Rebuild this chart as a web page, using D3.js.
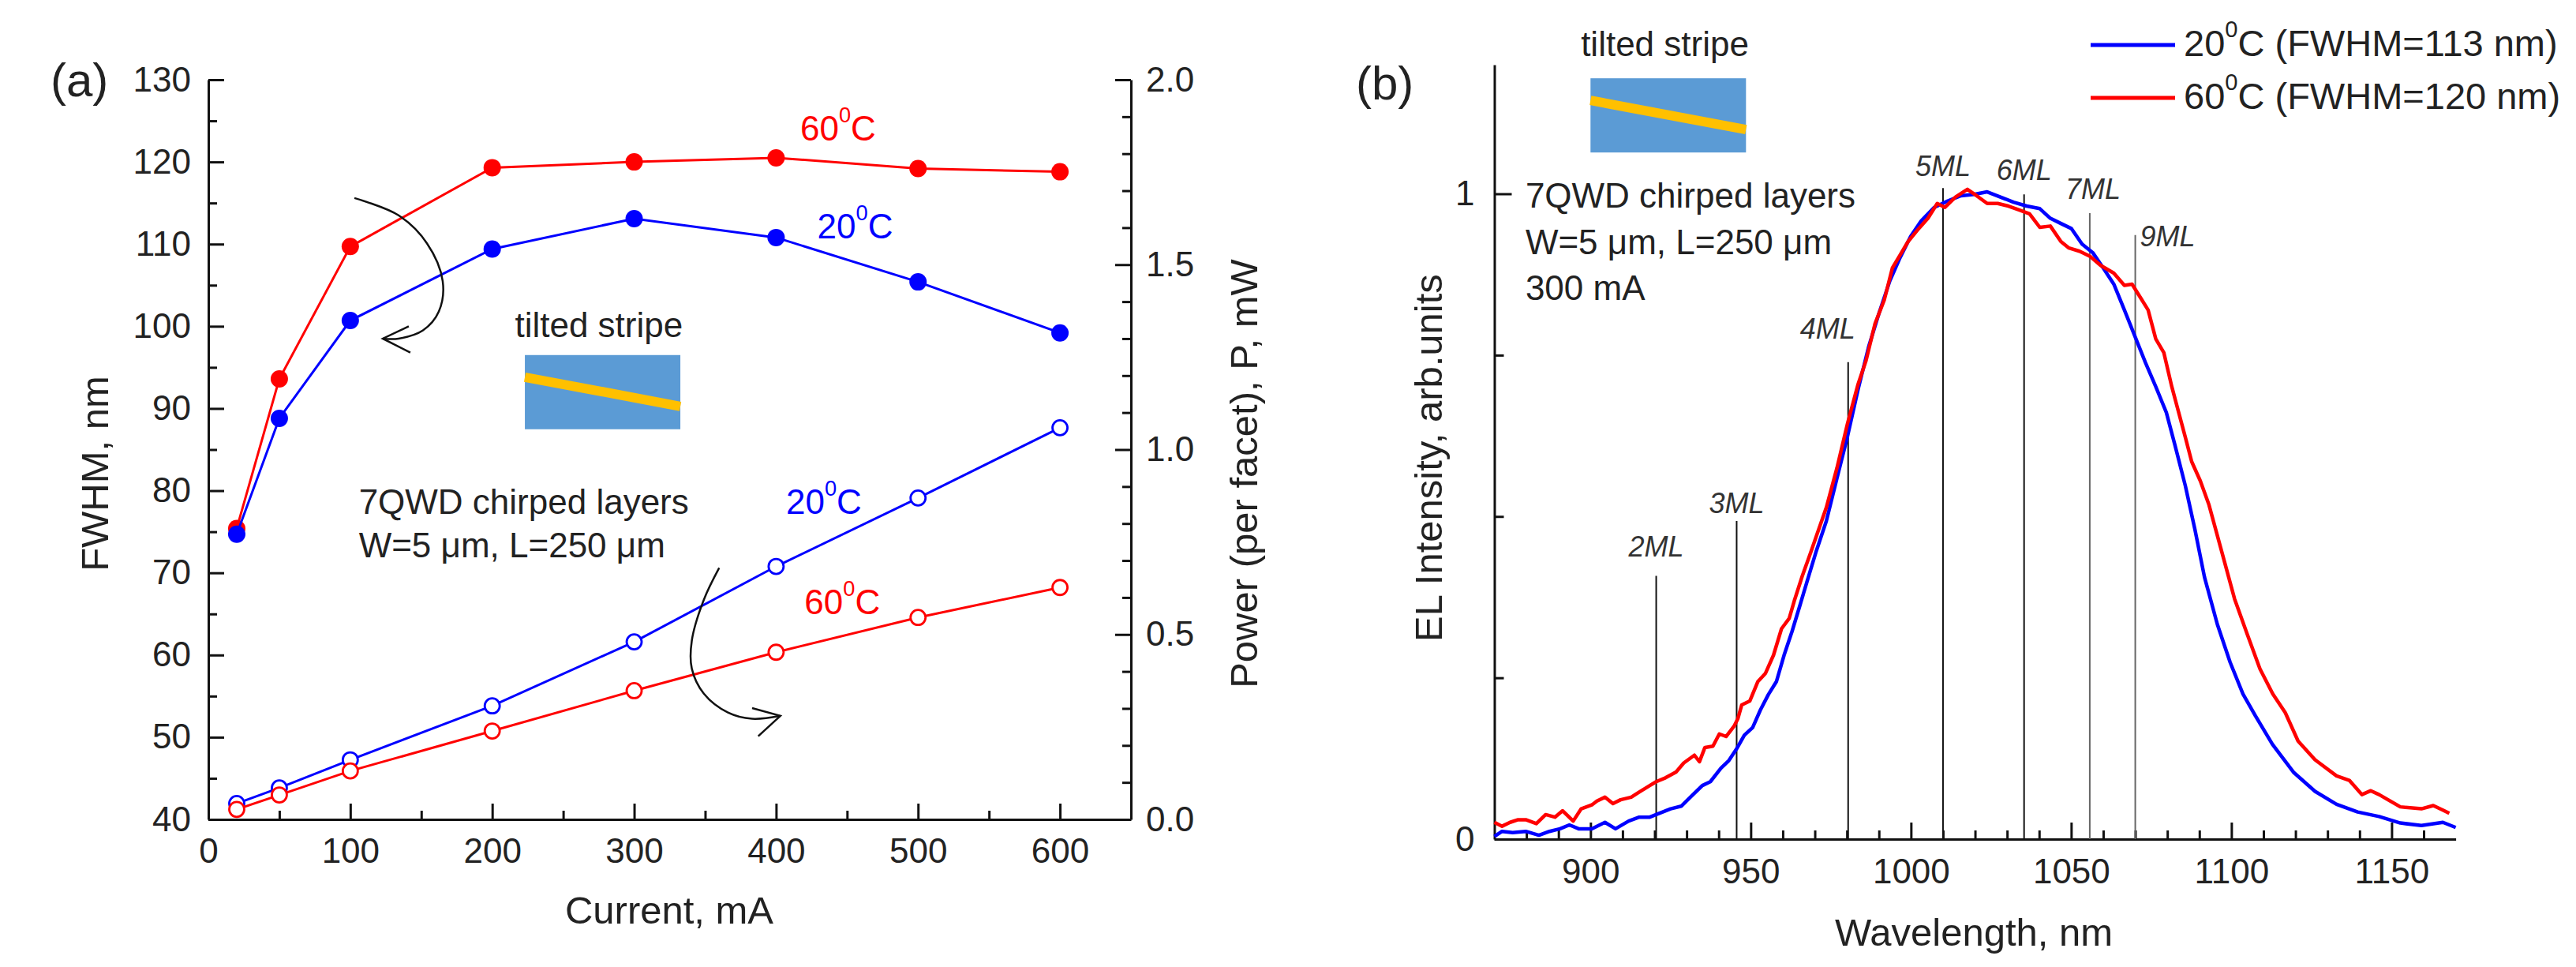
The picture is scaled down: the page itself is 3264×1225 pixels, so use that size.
<!DOCTYPE html>
<html>
<head>
<meta charset="utf-8">
<script src="https://cdnjs.cloudflare.com/ajax/libs/d3/7.8.5/d3.min.js"></script>
<style>
    body { margin: 0; background: #fff; }
    svg text { font-family: "Liberation Sans", Arial, Helvetica, sans-serif; }
    .eje path, .eje line { stroke: #111; stroke-width: 3; }
    .eje text { font-size: 44px; fill: #222; }
</style>
</head>
<body>
<script>

// (a) FWHM y potencia vs corriente
var corriente = [20, 50, 100, 200, 300, 400, 500, 600];
var fwhm20 = [74.7, 88.8, 100.7, 109.4, 113.1, 110.8, 105.4, 99.2];
var fwhm60 = [75.4, 93.6, 109.7, 119.3, 120.0, 120.5, 119.2, 118.8];
var potencia20 = [0.043, 0.085, 0.161, 0.307, 0.480, 0.684, 0.869, 1.059];
var potencia60 = [0.027, 0.066, 0.131, 0.239, 0.348, 0.452, 0.546, 0.627];

var ticksCorriente = [0, 100, 200, 300, 400, 500, 600];
var menoresCorriente = [50, 150, 250, 350, 450, 550];
var ticksFwhm = [40, 50, 60, 70, 80, 90, 100, 110, 120, 130];
var menoresFwhm = [45, 55, 65, 75, 85, 95, 105, 115, 125];
var ticksPotencia = [0, 0.5, 1.0, 1.5, 2.0];
var menoresPotencia = [0.1, 0.2, 0.3, 0.4, 0.6, 0.7, 0.8, 0.9, 1.1, 1.2, 1.3, 1.4, 1.6, 1.7, 1.8, 1.9];

// (b) espectros EL a 300 mA  [longitud de onda nm, intensidad]
var espectro20 = [
    [870,0.004],[872.4,0.012],[875.7,0.010],[879.8,0.012],[883.9,0.006],[887.2,0.012],[890.5,0.016],
    [893.4,0.022],[896.3,0.016],[900.4,0.016],[904.5,0.026],[907.8,0.016],[911.9,0.028],[915.2,0.034],
    [918.5,0.034],[920.5,0.038],[925,0.047],[928.3,0.051],[931.6,0.067],[934.9,0.083],[937.4,0.089],
    [940.7,0.110],[943.2,0.122],[945.6,0.140],[948,0.161],[950.6,0.173],[953,0.200],[955.5,0.224],
    [958,0.244],[960.4,0.285],[962.9,0.322],[965.4,0.363],[967.8,0.403],[970.3,0.444],[973.6,0.493],
    [976.9,0.559],[980.2,0.624],[983.5,0.697],[986.8,0.763],[990.1,0.816],[993.4,0.865],[996.6,0.901],
    [999.9,0.934],[1003.2,0.958],[1007.3,0.979],[1011.5,0.989],[1015.6,0.997],[1019.7,0.999],[1023.8,1.003],
    [1027.9,0.995],[1032,0.987],[1036.1,0.981],[1040.2,0.977],[1043.5,0.962],[1046.8,0.954],[1050.1,0.946],
    [1053.4,0.922],[1056.7,0.909],[1060,0.885],[1063.3,0.860],[1066.6,0.820],[1069.9,0.779],[1073.2,0.738],
    [1076.4,0.701],[1079.7,0.661],[1082.3,0.612],[1085.6,0.548],[1088.6,0.480],[1091.6,0.406],[1095.6,0.333],
    [1099.6,0.274],[1103.6,0.225],[1107.5,0.191],[1112.8,0.147],[1119.5,0.103],[1126.1,0.074],[1132.8,0.054],
    [1139.4,0.042],[1146.1,0.035],[1152.7,0.025],[1159.3,0.021],[1166,0.026],[1170,0.018]
];
var espectro60 = [
    [870,0.026],[872.4,0.020],[874.9,0.026],[877.4,0.030],[879.8,0.030],[883.1,0.024],[886,0.038],
    [888.9,0.034],[891.3,0.044],[894.6,0.028],[897.1,0.047],[900.4,0.053],[902,0.059],[904.5,0.065],
    [907,0.055],[909.4,0.061],[912.7,0.065],[915.2,0.073],[918.5,0.083],[920.5,0.089],[923.4,0.095],
    [926.7,0.104],[929.1,0.118],[932.4,0.130],[934,0.120],[935.7,0.142],[938.2,0.144],[940.2,0.163],
    [942.3,0.159],[944.8,0.175],[946,0.187],[947.2,0.208],[949.7,0.214],[952.2,0.244],[954.6,0.257],
    [957.1,0.285],[959.6,0.326],[962,0.342],[963.7,0.371],[966.1,0.408],[968.7,0.444],[970.3,0.467],
    [973.6,0.514],[976.9,0.575],[980.2,0.644],[983.5,0.705],[986,0.742],[988.8,0.799],[991.7,0.836],
    [994.2,0.885],[996.6,0.905],[999.1,0.926],[1002.4,0.946],[1005.3,0.962],[1008.2,0.985],[1010.6,0.979],
    [1013.9,0.995],[1017.6,1.007],[1020.5,0.997],[1023.8,0.985],[1027.1,0.985],[1030.4,0.981],[1033.7,0.975],
    [1037,0.969],[1040.2,0.948],[1043.5,0.950],[1046.8,0.926],[1049.3,0.916],[1052.6,0.911],[1055.9,0.903],
    [1059.2,0.889],[1063.3,0.877],[1066.6,0.858],[1069,0.860],[1071.5,0.840],[1074,0.820],[1076.4,0.775],
    [1078.9,0.754],[1081.4,0.701],[1085.6,0.623],[1087.6,0.585],[1090.3,0.555],[1093,0.518],[1097,0.445],
    [1101,0.372],[1104.9,0.318],[1108.9,0.264],[1112.9,0.225],[1116.8,0.196],[1120.8,0.152],[1126.1,0.123],
    [1132.8,0.098],[1136.8,0.091],[1140.7,0.069],[1143.5,0.075],[1146.1,0.069],[1152.7,0.050],[1159.3,0.047],
    [1163,0.052],[1166,0.045],[1168,0.040]
];

var ticksOnda = [900, 950, 1000, 1050, 1100, 1150];
var menoresOnda = [880, 890, 910, 920, 930, 940, 960, 970, 980, 990, 1010, 1020, 1030, 1040,
                   1060, 1070, 1080, 1090, 1110, 1120, 1130, 1140, 1160];
var ticksIntensidad = [0, 1];
var menoresIntensidad = [0.25, 0.5, 0.75];

var capas = ["2ML", "3ML", "4ML", "5ML", "6ML", "7ML", "9ML"];
var capasOnda = [920.5, 945.6, 980.4, 1010, 1035.3, 1055.8, 1070];
var capasAltura = [0.408, 0.493, 0.739, 1.009, 0.999, 0.970, 0.936];

var leyenda = ["20", "60"];
var leyendaFwhm = [113, 120];

var azul = "#0000ff";
var rojo = "#ff0000";

var svg = d3.select("body").append("svg")
    .attr("width", 3264)
    .attr("height", 1225);

svg.append("rect").attr("width", 3264).attr("height", 1225).attr("fill", "#fff");

// texto tipo "20ºC" con el cero en superindice
function textoGrados(g, x, y, num, resto, size, color) {
    var t = g.append("text")
        .attr("x", x)
        .attr("y", y)
        .attr("font-size", size)
        .attr("fill", color);
    t.append("tspan").text(num);
    t.append("tspan").attr("font-size", size * 0.62).attr("dy", -size * 0.52).text("0");
    t.append("tspan").attr("dy", size * 0.52).text("C" + resto);
    return t;
}

function ejeMenor(g, eje) {
    var m = g.append("g").attr("class", "eje").call(eje);
    m.select(".domain").remove();
}

function insertoFranja(g, x0, y0) {
    g.append("rect")
        .attr("x", x0).attr("y", y0)
        .attr("width", 197).attr("height", 94)
        .attr("fill", "#5b9bd5");
    g.append("line")
        .attr("x1", x0).attr("y1", y0 + 28)
        .attr("x2", x0 + 197).attr("y2", y0 + 65)
        .attr("stroke", "#ffc000")
        .attr("stroke-width", 12);
}

function cargarPanelA() {
    var x = d3.scaleLinear().domain([0, 650]).range([264, 1433]);
    var yF = d3.scaleLinear().domain([40, 130]).range([1038, 101]);
    var yP = d3.scaleLinear().domain([0, 2]).range([1038, 101]);
    var g = svg.append("g");

    g.append("g").attr("class", "eje").attr("transform", "translate(0,1038)")
        .call(d3.axisBottom(x).tickValues(ticksCorriente).tickSize(-20).tickSizeOuter(0).tickPadding(24));
    ejeMenor(g.append("g").attr("transform", "translate(0,1038)"),
        d3.axisBottom(x).tickValues(menoresCorriente).tickSize(-11).tickFormat(""));

    g.append("g").attr("class", "eje").attr("transform", "translate(264,0)")
        .call(d3.axisLeft(yF).tickValues(ticksFwhm).tickSize(-20).tickSizeOuter(0).tickPadding(22));
    ejeMenor(g.append("g").attr("transform", "translate(264,0)"),
        d3.axisLeft(yF).tickValues(menoresFwhm).tickSize(-11).tickFormat(""));

    g.append("g").attr("class", "eje").attr("transform", "translate(1433,0)")
        .call(d3.axisRight(yP).tickValues(ticksPotencia).tickFormat(d3.format(".1f"))
            .tickSize(-20).tickSizeOuter(0).tickPadding(19));
    ejeMenor(g.append("g").attr("transform", "translate(1433,0)"),
        d3.axisRight(yP).tickValues(menoresPotencia).tickSize(-11).tickFormat(""));

    g.append("text").attr("x", 848).attr("y", 1170)
        .attr("text-anchor", "middle").attr("font-size", 49).attr("fill", "#222")
        .text("Current, mA");
    g.append("text").attr("transform", "translate(137,600) rotate(-90)")
        .attr("text-anchor", "middle").attr("font-size", 49).attr("fill", "#222")
        .text("FWHM, nm");
    g.append("text").attr("transform", "translate(1593,600) rotate(-90)")
        .attr("text-anchor", "middle").attr("font-size", 49).attr("fill", "#222")
        .text("Power (per facet), P, mW");
    g.append("text").attr("x", 64).attr("y", 122)
        .attr("font-size", 60).attr("fill", "#222").text("(a)");

    var series = [
        {v: fwhm60, y: yF, color: rojo, lleno: true},
        {v: fwhm20, y: yF, color: azul, lleno: true},
        {v: potencia20, y: yP, color: azul, lleno: false},
        {v: potencia60, y: yP, color: rojo, lleno: false}
    ];

    series.forEach(function(s) {
        var linea = d3.line()
            .x(function(d, i) { return x(corriente[i]); })
            .y(function(d) { return s.y(d); });
        g.append("path").datum(s.v)
            .attr("d", linea)
            .attr("fill", "none")
            .attr("stroke", s.color)
            .attr("stroke-width", 3);
        g.selectAll(null).data(s.v).enter().append("circle")
            .attr("cx", function(d, i) { return x(corriente[i]); })
            .attr("cy", function(d) { return s.y(d); })
            .attr("r", s.lleno ? 11 : 9.5)
            .attr("fill", s.lleno ? s.color : "#fff")
            .attr("stroke", s.color)
            .attr("stroke-width", s.lleno ? 0 : 2.8);
    });

    textoGrados(g, x(417), yF(122.6), "60", "", 44, rojo);
    textoGrados(g, x(429), yF(110.7), "20", "", 44, azul);
    textoGrados(g, x(407), yP(0.827), "20", "", 44, azul);
    textoGrados(g, x(420), yP(0.556), "60", "", 44, rojo);

    g.append("text").attr("x", x(216)).attr("y", yF(98.7))
        .attr("font-size", 44).attr("fill", "#222").text("tilted stripe");
    insertoFranja(g, x(223), yF(96.5));

    g.append("text").attr("x", x(106)).attr("y", yF(77.2))
        .attr("font-size", 44).attr("fill", "#222").text("7QWD chirped layers");
    g.append("text").attr("x", x(106)).attr("y", yF(71.9))
        .attr("font-size", 44).attr("fill", "#222").text("W=5 \u03bcm, L=250 \u03bcm");

    // flechas curvas hacia cada eje
    var curva = d3.line().curve(d3.curveCatmullRom);
    var recta = d3.line();
    var flechaF = [[102.9,115.6],[134,113.5],[154,110.1],[165.1,105.5],[162.4,101.8],[151.2,99.5],[134,98.5],[122.9,98.5]];
    var puntaF = [[141.2,100.0],[122.9,98.5],[142.3,96.8]];
    var flechaP = [[359.9,0.680],[349.1,0.594],[340.6,0.483],[340.6,0.408],[349.1,0.340],[366.1,0.289],[383.1,0.272],[403.0,0.280]];
    var puntaP = [[383.1,0.301],[403.0,0.280],[387.4,0.225]];

    [[flechaF, yF, curva], [puntaF, yF, recta], [flechaP, yP, curva], [puntaP, yP, recta]].forEach(function(f) {
        g.append("path")
            .attr("d", f[2](f[0].map(function(p) { return [x(p[0]), f[1](p[1])]; })))
            .attr("fill", "none")
            .attr("stroke", "#111")
            .attr("stroke-width", 2.5);
    });
}

function cargarPanelB() {
    var x = d3.scaleLinear().domain([870, 1170]).range([1893.5, 3111.6]);
    var y = d3.scaleLinear().domain([0, 1.2]).range([1063, 82]);
    var g = svg.append("g");

    g.append("g").attr("class", "eje").attr("transform", "translate(0,1063)")
        .call(d3.axisBottom(x).tickValues(ticksOnda).tickFormat(d3.format("d"))
            .tickSize(-21).tickSizeOuter(0).tickPadding(25));
    ejeMenor(g.append("g").attr("transform", "translate(0,1063)"),
        d3.axisBottom(x).tickValues(menoresOnda).tickSize(-11).tickFormat(""));

    g.append("g").attr("class", "eje").attr("transform", "translate(1893.5,0)")
        .call(d3.axisLeft(y).tickValues(ticksIntensidad).tickFormat(d3.format("d"))
            .tickSize(-22).tickSizeOuter(0).tickPadding(25));
    ejeMenor(g.append("g").attr("transform", "translate(1893.5,0)"),
        d3.axisLeft(y).tickValues(menoresIntensidad).tickSize(-12).tickFormat(""));

    g.append("text").attr("x", 2501).attr("y", 1198)
        .attr("text-anchor", "middle").attr("font-size", 49).attr("fill", "#222")
        .text("Wavelength, nm");
    g.append("text").attr("transform", "translate(1827,580) rotate(-90)")
        .attr("text-anchor", "middle").attr("font-size", 49).attr("fill", "#222")
        .text("EL Intensity, arb.units");
    g.append("text").attr("x", 1718).attr("y", 126)
        .attr("font-size", 60).attr("fill", "#222").text("(b)");

    // lineas de monocapas
    var etiquetas = [
        {dx: 0, dy: -24, anchor: "middle", color: "#111"},
        {dx: 0, dy: -10, anchor: "middle", color: "#111"},
        {dx: -26, dy: -30, anchor: "middle", color: "#111"},
        {dx: 0, dy: -15, anchor: "middle", color: "#111"},
        {dx: 0, dy: -18, anchor: "middle", color: "#111"},
        {dx: 4, dy: -18, anchor: "middle", color: "#666"},
        {dx: 6, dy: 14, anchor: "start", color: "#666"}
    ];
    capas.forEach(function(c, i) {
        g.append("line")
            .attr("x1", x(capasOnda[i])).attr("x2", x(capasOnda[i]))
            .attr("y1", y(0)).attr("y2", y(capasAltura[i]))
            .attr("stroke", etiquetas[i].color)
            .attr("stroke-width", 2);
        g.append("text")
            .attr("x", x(capasOnda[i]) + etiquetas[i].dx)
            .attr("y", y(capasAltura[i]) + etiquetas[i].dy)
            .attr("text-anchor", etiquetas[i].anchor)
            .attr("font-size", 36)
            .attr("font-style", "italic")
            .attr("fill", "#333")
            .text(c);
    });

    var linea = d3.line()
        .x(function(d) { return x(d[0]); })
        .y(function(d) { return y(d[1]); });

    [[espectro20, azul], [espectro60, rojo]].forEach(function(s) {
        g.append("path").datum(s[0])
            .attr("d", linea)
            .attr("fill", "none")
            .attr("stroke", s[1])
            .attr("stroke-width", 4.5)
            .attr("stroke-linejoin", "round");
    });

    g.append("text").attr("x", x(897)).attr("y", y(1.214))
        .attr("font-size", 44).attr("fill", "#222").text("tilted stripe");
    insertoFranja(g, x(900), y(1.179));

    var lineas = ["7QWD chirped layers", "W=5 \u03bcm, L=250 \u03bcm", "300 mA"];
    var alturas = [0.979, 0.907, 0.836];
    lineas.forEach(function(t, i) {
        g.append("text").attr("x", x(879.7)).attr("y", y(alturas[i]))
            .attr("font-size", 44).attr("fill", "#222").text(t);
    });

    // leyenda
    leyenda.forEach(function(temp, i) {
        var yy = 57 + i * 67;
        g.append("line")
            .attr("x1", 2649).attr("x2", 2756)
            .attr("y1", yy).attr("y2", yy)
            .attr("stroke", i == 0 ? azul : rojo)
            .attr("stroke-width", 5);
        textoGrados(g, 2767, yy + 14, temp, " (FWHM=" + leyendaFwhm[i] + " nm)", 47, "#222");
    });
}

cargarPanelA();
cargarPanelB();

</script>
</body>
</html>
